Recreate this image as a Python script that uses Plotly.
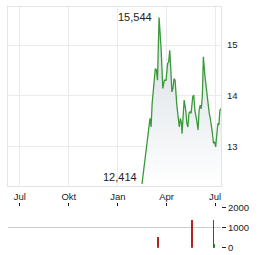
import plotly.graph_objects as go

# price series
dates = ["2024-02-15","2024-02-23","2024-02-26","2024-03-01","2024-03-03","2024-03-05","2024-03-09",
         "2024-03-11","2024-03-13","2024-03-15","2024-03-18","2024-03-20","2024-03-22","2024-03-25",
         "2024-03-28","2024-03-31","2024-04-03","2024-04-05","2024-04-07","2024-04-09","2024-04-11",
         "2024-04-13","2024-04-15","2024-04-17","2024-04-18","2024-04-20","2024-04-23","2024-04-25",
         "2024-04-27","2024-04-29","2024-04-30","2024-05-02","2024-05-04","2024-05-07","2024-05-09",
         "2024-05-11","2024-05-13","2024-05-15","2024-05-17","2024-05-20","2024-05-22","2024-05-24",
         "2024-05-26","2024-05-28","2024-05-30","2024-06-01","2024-06-03","2024-06-05","2024-06-07",
         "2024-06-09","2024-06-12","2024-06-14","2024-06-16","2024-06-18","2024-06-20","2024-06-22",
         "2024-06-24","2024-06-26","2024-06-28","2024-06-30","2024-07-02","2024-07-04","2024-07-06",
         "2024-07-08","2024-07-10","2024-07-12"]
prices = [12.27, 13.00, 13.26, 13.56, 13.39, 13.85, 14.31,
          14.54, 14.51, 14.31, 15.544, 15.23, 14.90, 14.15,
          14.31, 14.31, 14.64, 14.67, 14.90, 14.51, 14.08,
          14.15, 14.34, 14.31, 14.11, 13.85, 13.56, 13.39,
          13.56, 13.46, 13.26, 13.66, 13.92, 13.72, 13.46,
          13.39, 13.66, 13.69, 13.66, 13.98, 14.02, 13.72,
          13.62, 13.49, 13.33, 13.72, 13.82, 13.75, 13.98,
          14.77, 14.38, 14.18, 14.11, 13.85, 13.66, 13.56,
          13.33, 13.26, 13.07, 13.10, 13.00, 13.20, 13.46,
          13.43, 13.72, 13.75]

# volume
vol_red_dates = ["2024-03-16", "2024-05-19", "2024-06-28"]
vol_red = [560, 1410, 1410]
vol_green_dates = ["2024-06-29"]
vol_green = [200]

# labels
max_label = "15,544"
max_date = "2024-03-18"
max_val = 15.544
min_label = "12,414"
min_date = "2024-02-15"
min_val = 12.414

tick_dates = ["2023-07-01", "2023-10-01", "2024-01-01", "2024-04-01", "2024-07-01"]
tick_text = ["Jul", "Okt", "Jan", "Apr", "Jul"]
price_ticks = [13, 14, 15]
vol_ticks = [0, 1000, 2000]
vol_tick_text = ["0", "1000", "2000"]

x_range = ["2023-06-09", "2024-07-12"]

W, H = 264, 255
def py(p):
    return 1 - p / H

fig = go.Figure()

fig.add_trace(go.Scatter(
    x=dates, y=prices, mode="lines",
    line=dict(color="#3a9a3a", width=1.3),
    fill="tozeroy",
    fillgradient=dict(type="vertical",
                      colorscale=[[0, "rgba(255,255,255,1)"], [1, "#d3dbe1"]],
                      start=12.23, stop=15.6),
    xaxis="x", yaxis="y", hoverinfo="skip", showlegend=False))

fig.add_trace(go.Bar(
    x=vol_green_dates, y=vol_green, marker=dict(color="#228b22", line_width=0),
    width=3.0 * 86400000, xaxis="x2", yaxis="y2", showlegend=False))
fig.add_trace(go.Bar(
    x=vol_red_dates, y=vol_red, marker=dict(color="#b22222", line_width=0),
    width=1.6 * 86400000, xaxis="x2", yaxis="y2", showlegend=False))

font = dict(family="Liberation Sans, Arial, sans-serif", size=9.5, color="#222")

fig.add_annotation(x=max_date, y=max_val, text=max_label, showarrow=False,
                   xanchor="right", yanchor="middle", xshift=-5,
                   font=dict(family="Liberation Sans, Arial, sans-serif", size=11, color="#222"))
fig.add_annotation(x=min_date, y=min_val, text=min_label, showarrow=False,
                   xanchor="right", yanchor="middle", xshift=-3,
                   font=dict(family="Liberation Sans, Arial, sans-serif", size=11, color="#222"))

dom_x = [8 / W, 221 / W]

fig.update_layout(
    template="none",
    width=W, height=H,
    margin=dict(l=0, r=0, t=0, b=0, pad=0),
    paper_bgcolor="white", plot_bgcolor="white",
    bargap=0, barmode="overlay",
    font=font,
    xaxis=dict(domain=dom_x, range=x_range, type="date", automargin=False,
               tickvals=tick_dates, ticktext=tick_text,
               showgrid=True, gridcolor="#ebebeb", gridwidth=1,
               showline=True, linecolor="#e3e3e3", linewidth=1, mirror=True,
               ticks="outside", ticklen=2, tickcolor="rgba(0,0,0,0)",
               tickfont=font, anchor="y", zeroline=False),
    yaxis=dict(domain=[py(186), py(7)], range=[12.23, 15.75], side="right", automargin=False,
               tickvals=price_ticks, showgrid=True, gridcolor="#ebebeb",
               showline=True, linecolor="#e3e3e3", linewidth=1, mirror=True,
               ticks="outside", ticklen=3, tickcolor="rgba(0,0,0,0)",
               tickfont=font, anchor="x", zeroline=False),
    xaxis2=dict(domain=dom_x, range=x_range, type="date", side="top", automargin=False,
                tickvals=tick_dates, showticklabels=False,
                ticks="outside", ticklen=3, tickcolor="#111", tickwidth=1,
                showgrid=False, showline=False, anchor="y2", zeroline=False),
    yaxis2=dict(domain=[py(247.7), py(206.5)], range=[-20, 2040], side="right", automargin=False,
                tickvals=vol_ticks, ticktext=vol_tick_text,
                showgrid=True, gridcolor="#cccccc", gridwidth=1,
                ticks="outside", ticklen=4, tickcolor="#222",
                showline=False, zeroline=False,
                tickfont=font, anchor="x2"),
)

fig.write_html("out.html")
